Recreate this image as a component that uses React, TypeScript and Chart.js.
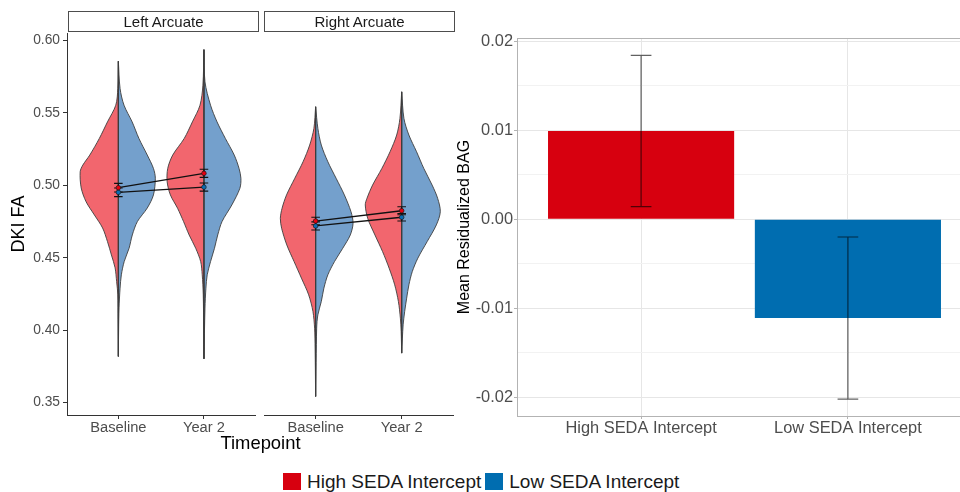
import React, { useEffect, useRef } from "react";
import { Chart, registerables } from "chart.js";

Chart.register(...registerables);

const FONT = '"Liberation Sans", Arial, Helvetica, sans-serif';

// ---------- Data: violin panels ----------
const TIMEPOINTS = ["Baseline", "Year 2"];
const TIME_POS = [1, 2];
const FA_TICKS = [0.35, 0.4, 0.45, 0.5, 0.55, 0.6];
const FACETS = ["Left Arcuate", "Right Arcuate"];
const GROUPS = ["High SEDA Intercept", "Low SEDA Intercept"];

// half-violin profiles: FA values (top -> bottom) and half-widths (x units)
const LB_HIGH_FA = [0.5855, 0.5667, 0.5552, 0.5437, 0.5323, 0.5208, 0.5139, 0.5093, 0.4981, 0.4886, 0.4795, 0.4705, 0.4611, 0.4519, 0.443, 0.4335, 0.4244, 0.4072, 0.3819];
const LB_HIGH_W = [0, 0.006, 0.03, 0.127, 0.222, 0.334, 0.415, 0.446, 0.434, 0.377, 0.28, 0.184, 0.127, 0.081, 0.038, 0.02, 0.006, 0.003, 0];
const LB_LOW_FA = [0.5855, 0.5667, 0.5552, 0.5437, 0.5323, 0.5208, 0.5116, 0.5048, 0.4933, 0.4843, 0.4749, 0.4657, 0.4565, 0.4473, 0.4382, 0.429, 0.4154, 0.4003, 0.3819];
const LB_LOW_W = [0, 0.02, 0.066, 0.161, 0.24, 0.338, 0.41, 0.432, 0.41, 0.338, 0.222, 0.163, 0.125, 0.068, 0.035, 0.02, 0.008, 0.003, 0];

const LY_HIGH_FA = [0.5935, 0.569, 0.5552, 0.5437, 0.5323, 0.5208, 0.5116, 0.5024, 0.4933, 0.4841, 0.4749, 0.4657, 0.4565, 0.4473, 0.4382, 0.4244, 0.4, 0.3803];
const LY_HIGH_W = [0, 0.012, 0.046, 0.135, 0.23, 0.365, 0.423, 0.43, 0.392, 0.308, 0.238, 0.173, 0.096, 0.038, 0.02, 0.008, 0.003, 0];
const LY_LOW_FA = [0.5935, 0.5713, 0.5552, 0.5437, 0.5323, 0.5208, 0.5116, 0.5048, 0.4979, 0.4864, 0.4749, 0.4657, 0.4565, 0.4473, 0.4382, 0.429, 0.4152, 0.3803];
const LY_LOW_W = [0, 0.012, 0.077, 0.153, 0.25, 0.354, 0.41, 0.432, 0.42, 0.326, 0.211, 0.161, 0.123, 0.077, 0.038, 0.023, 0.012, 0];

const RB_HIGH_FA = [0.5541, 0.5392, 0.5277, 0.5162, 0.5048, 0.4933, 0.4841, 0.4772, 0.4703, 0.4588, 0.4473, 0.4359, 0.4244, 0.4129, 0.4014, 0.3877, 0.3543];
const RB_HIGH_W = [0, 0.02, 0.069, 0.146, 0.242, 0.338, 0.39, 0.41, 0.395, 0.335, 0.25, 0.165, 0.081, 0.031, 0.012, 0.006, 0];
const RB_LOW_FA = [0.5541, 0.5392, 0.5277, 0.5162, 0.5048, 0.4933, 0.4817, 0.4738, 0.4657, 0.4565, 0.4473, 0.4382, 0.429, 0.4198, 0.4106, 0.4014, 0.3543];
const RB_LOW_W = [0, 0.026, 0.066, 0.142, 0.238, 0.334, 0.411, 0.435, 0.403, 0.315, 0.219, 0.142, 0.096, 0.066, 0.026, 0.012, 0];

const RY_HIGH_FA = [0.5644, 0.5461, 0.5346, 0.5231, 0.5116, 0.5001, 0.491, 0.4864, 0.4772, 0.4657, 0.4542, 0.4428, 0.4313, 0.4198, 0.4083, 0.3991, 0.3842];
const RY_HIGH_W = [0, 0.02, 0.058, 0.135, 0.23, 0.338, 0.403, 0.423, 0.395, 0.311, 0.222, 0.146, 0.081, 0.038, 0.015, 0.006, 0];
const RY_LOW_FA = [0.5644, 0.5461, 0.5346, 0.5231, 0.5116, 0.5001, 0.491, 0.4817, 0.4726, 0.4611, 0.4497, 0.4404, 0.4313, 0.4221, 0.4129, 0.4037, 0.3842];
const RY_LOW_W = [0, 0.026, 0.084, 0.173, 0.257, 0.354, 0.418, 0.449, 0.403, 0.296, 0.188, 0.123, 0.084, 0.058, 0.035, 0.017, 0];

// group means and standard errors (Baseline, Year 2)
const LEFT_HIGH_MEAN = [0.4983, 0.5082];
const LEFT_HIGH_SE = [0.003, 0.0028];
const LEFT_LOW_MEAN = [0.4951, 0.4987];
const LEFT_LOW_SE = [0.003, 0.0028];
const RIGHT_HIGH_MEAN = [0.4753, 0.4824];
const RIGHT_HIGH_SE = [0.0026, 0.0028];
const RIGHT_LOW_MEAN = [0.4719, 0.4779];
const RIGHT_LOW_SE = [0.0028, 0.0026];

// ---------- Data: bar panel ----------
const GROUP_POS = [1, 2];
const BAG_MEAN = [0.0099, -0.0111];
const BAG_LO = [0.0014, -0.0202];
const BAG_HI = [0.0184, -0.002];
const BAG_TICKS = [-0.02, -0.01, 0, 0.01, 0.02];
const BAG_MINOR = [-0.015, -0.005, 0.005, 0.015];

// ---------- Styles ----------
const HIGH_COLOR = "#D7000F";
const LOW_COLOR = "#006DB0";
const HIGH_FILL = "#F2666E";
const LOW_FILL = "#74A0CC";
const OUTLINE = "#3d3d3d";
const CAP = 0.05;

type Pt = { x: number; y: number | null };

function halfViolin(center: number, fa: number[], w: number[], side: number, fill: string) {
  const data: Pt[] = fa.map((y, i) => ({ x: center + side * w[i], y }));
  return {
    data,
    fill: "shape",
    backgroundColor: fill,
    borderColor: OUTLINE,
    borderWidth: 0.9,
    pointRadius: 0,
    tension: 0.3,
    order: 5,
  };
}

function errorBars(xs: number[], lo: number[], hi: number[], cap: number): Pt[] {
  const pts: Pt[] = [];
  xs.forEach((x, i) => {
    pts.push({ x: x - cap, y: hi[i] }, { x: x + cap, y: hi[i] }, { x, y: null });
    pts.push({ x, y: hi[i] }, { x, y: lo[i] }, { x, y: null });
    pts.push({ x: x - cap, y: lo[i] }, { x: x + cap, y: lo[i] }, { x, y: null });
  });
  return pts;
}

type Violin = { x: number; hFa: number[]; hW: number[]; lFa: number[]; lW: number[] };

function facetConfig(
  violins: Violin[],
  hMean: number[],
  hSe: number[],
  lMean: number[],
  lSe: number[],
  showY: boolean
): any {
  const datasets: any[] = [];
  violins.forEach((v) => {
    datasets.push(halfViolin(v.x, v.hFa, v.hW, -1, HIGH_FILL));
    datasets.push(halfViolin(v.x, v.lFa, v.lW, 1, LOW_FILL));
    const top = Math.max(v.hFa[0], v.lFa[0]);
    const bot = Math.min(v.hFa[v.hFa.length - 1], v.lFa[v.lFa.length - 1]);
    datasets.push({
      data: [
        { x: v.x, y: top },
        { x: v.x, y: bot },
      ],
      borderColor: OUTLINE,
      borderWidth: 1,
      pointRadius: 0,
      fill: false,
      order: 4,
    });
  });
  const mkErr = (m: number[], s: number[]) => ({
    data: errorBars(
      TIME_POS,
      m.map((v, i) => v - s[i]),
      m.map((v, i) => v + s[i]),
      CAP
    ),
    borderColor: "#111",
    borderWidth: 1.1,
    pointRadius: 0,
    spanGaps: false,
    fill: false,
    order: 2,
  });
  datasets.push(mkErr(hMean, hSe), mkErr(lMean, lSe));
  const mkLine = (m: number[]) => ({
    data: TIME_POS.map((x, i) => ({ x, y: m[i] })),
    borderColor: "#111",
    borderWidth: 1.3,
    pointRadius: 0,
    fill: false,
    order: 1,
  });
  datasets.push(mkLine(hMean), mkLine(lMean));
  const mkPts = (m: number[], c: string) => ({
    data: TIME_POS.map((x, i) => ({ x, y: m[i] })),
    showLine: false,
    pointRadius: 2.3,
    pointBackgroundColor: c,
    pointBorderColor: "#1a1a1a",
    pointBorderWidth: 0.7,
    fill: false,
    order: 0,
  });
  datasets.push(mkPts(hMean, "#E4000F"), mkPts(lMean, "#0A6DB5"));

  return {
    type: "line",
    data: { datasets },
    options: {
      animation: false,
      responsive: false,
      maintainAspectRatio: false,
      events: [],
      layout: {
        padding: showY
          ? { top: 33, left: 0, right: 2, bottom: 0 }
          : { top: 33, left: 6, right: 4, bottom: 0 },
      },
      plugins: { legend: { display: false }, tooltip: { enabled: false } },
      scales: {
        x: {
          type: "linear",
          min: 0.4,
          max: 2.6,
          afterBuildTicks: (s: any) => {
            s.ticks = TIME_POS.map((v) => ({ value: v }));
          },
          afterFit: (s: any) => {
            s.height = 45;
          },
          ticks: {
            callback: (v: number) => TIMEPOINTS[TIME_POS.indexOf(v)] ?? "",
            color: "#4d4d4d",
            font: { family: FONT, size: 14.7 },
            padding: 0,
            autoSkip: false,
            maxRotation: 0,
          },
          grid: { drawOnChartArea: false, drawTicks: true, tickLength: 4, color: "#333" },
          border: { display: true, color: "#333", width: 1 },
        },
        y: {
          type: "linear",
          display: showY,
          min: 0.3415,
          max: 0.605,
          afterBuildTicks: (s: any) => {
            s.ticks = FA_TICKS.map((v) => ({ value: v }));
          },
          afterFit: (s: any) => {
            s.width = showY ? 67 : 0;
          },
          ticks: {
            callback: (v: number) => v.toFixed(2),
            color: "#4d4d4d",
            font: { family: FONT, size: 13.8 },
            padding: 3,
          },
          grid: { drawOnChartArea: false, drawTicks: true, tickLength: 4, color: "#333" },
          border: { display: true, color: "#333", width: 1 },
          title: {
            display: true,
            text: "DKI FA",
            color: "#000",
            font: { family: FONT, size: 18 },
            padding: { top: 8, bottom: 0 },
          },
        },
      },
    },
  };
}

const isMajor = (v: number) => Math.abs(v * 100 - Math.round(v * 100)) < 1e-6;

function barConfig(): any {
  return {
    type: "bar",
    data: {
      datasets: [
        {
          type: "bar",
          data: GROUP_POS.map((x, i) => ({ x, y: BAG_MEAN[i] })),
          backgroundColor: [HIGH_COLOR, LOW_COLOR],
          borderWidth: 0,
          barPercentage: 0.9,
          categoryPercentage: 1,
          order: 3,
        },
        {
          type: "line",
          data: errorBars(GROUP_POS, BAG_LO, BAG_HI, CAP),
          borderColor: "rgba(0,0,0,0.62)",
          borderWidth: 1.2,
          pointRadius: 0,
          spanGaps: false,
          fill: false,
          order: 1,
        },
      ],
    },
    options: {
      animation: false,
      responsive: false,
      maintainAspectRatio: false,
      events: [],
      layout: { padding: { top: 38, left: 0, right: 13, bottom: 0 } },
      plugins: { legend: { display: false }, tooltip: { enabled: false } },
      scales: {
        x: {
          type: "linear",
          min: 0.4,
          max: 2.6,
          offset: false,
          afterBuildTicks: (s: any) => {
            s.ticks = GROUP_POS.map((v) => ({ value: v }));
          },
          afterFit: (s: any) => {
            s.height = 44;
          },
          ticks: {
            callback: (v: number) => GROUPS[GROUP_POS.indexOf(v)] ?? "",
            color: "#4d4d4d",
            font: { family: FONT, size: 16.4 },
            padding: 0,
            autoSkip: false,
            maxRotation: 0,
          },
          grid: {
            offset: false,
            drawOnChartArea: true,
            color: "#e6e6e6",
            tickColor: "#b3b3b3",
            tickLength: 3,
            lineWidth: 1,
          },
          border: { display: true, color: "#b3b3b3", width: 1 },
        },
        xTop: {
          type: "linear",
          position: "top",
          display: true,
          min: 0,
          max: 1,
          afterFit: (s: any) => {
            s.height = 0;
          },
          ticks: { display: false },
          grid: { display: false, drawTicks: false },
          border: { display: true, color: "#b3b3b3", width: 1 },
        },
        y: {
          type: "linear",
          min: -0.0221,
          max: 0.02034,
          afterBuildTicks: (s: any) => {
            s.ticks = [...BAG_TICKS, ...BAG_MINOR].sort((a, b) => a - b).map((v) => ({ value: v }));
          },
          afterFit: (s: any) => {
            s.width = 77;
          },
          ticks: {
            callback: (v: number) => (isMajor(v) ? v.toFixed(2) : ""),
            color: "#4d4d4d",
            font: { family: FONT, size: 16.4 },
            padding: 1,
            autoSkip: false,
          },
          grid: {
            color: (ctx: any) => (ctx.tick && isMajor(ctx.tick.value) ? "#e6e6e6" : "#f2f2f2"),
            tickColor: (ctx: any) => (ctx.tick && isMajor(ctx.tick.value) ? "#b3b3b3" : "rgba(0,0,0,0)"),
            tickLength: 3,
            lineWidth: 1,
          },
          border: { display: true, color: "#b3b3b3", width: 1 },
          title: {
            display: true,
            text: "Mean Residualized BAG",
            color: "#000",
            font: { family: FONT, size: 16 },
            padding: { top: 15, bottom: 0 },
          },
        },
      },
    },
  };
}

const LEFT_VIOLINS: Violin[] = [
  { x: TIME_POS[0], hFa: LB_HIGH_FA, hW: LB_HIGH_W, lFa: LB_LOW_FA, lW: LB_LOW_W },
  { x: TIME_POS[1], hFa: LY_HIGH_FA, hW: LY_HIGH_W, lFa: LY_LOW_FA, lW: LY_LOW_W },
];
const RIGHT_VIOLINS: Violin[] = [
  { x: TIME_POS[0], hFa: RB_HIGH_FA, hW: RB_HIGH_W, lFa: RB_LOW_FA, lW: RB_LOW_W },
  { x: TIME_POS[1], hFa: RY_HIGH_FA, hW: RY_HIGH_W, lFa: RY_LOW_FA, lW: RY_LOW_W },
];

export default function App() {
  const leftRef = useRef<HTMLCanvasElement>(null);
  const rightRef = useRef<HTMLCanvasElement>(null);
  const barRef = useRef<HTMLCanvasElement>(null);

  useEffect(() => {
    const charts: Chart[] = [];
    if (leftRef.current)
      charts.push(
        new Chart(
          leftRef.current,
          facetConfig(LEFT_VIOLINS, LEFT_HIGH_MEAN, LEFT_HIGH_SE, LEFT_LOW_MEAN, LEFT_LOW_SE, true)
        )
      );
    if (rightRef.current)
      charts.push(
        new Chart(
          rightRef.current,
          facetConfig(RIGHT_VIOLINS, RIGHT_HIGH_MEAN, RIGHT_HIGH_SE, RIGHT_LOW_MEAN, RIGHT_LOW_SE, false)
        )
      );
    if (barRef.current) charts.push(new Chart(barRef.current, barConfig()));
    return () => charts.forEach((c) => c.destroy());
  }, []);

  const strip = (left: number, width: number, text: string) => (
    <div
      style={{
        position: "absolute",
        left,
        top: 11,
        width,
        height: 21,
        boxSizing: "border-box",
        border: "1px solid #4d4d4d",
        fontSize: 15,
        lineHeight: "19px",
        textAlign: "center",
        color: "#1a1a1a",
      }}
    >
      {text}
    </div>
  );

  const sq = (color: string) => (
    <span style={{ display: "inline-block", width: 18, height: 17, background: color }} />
  );

  return (
    <div
      style={{
        position: "fixed",
        left: 0,
        top: 0,
        width: 960,
        height: 492,
        overflow: "hidden",
        background: "#fff",
        fontFamily: FONT,
      }}
    >
      <canvas
        ref={leftRef}
        width={260}
        height={460}
        style={{ position: "absolute", left: 0, top: 0, width: 260, height: 460 }}
      />
      <canvas
        ref={rightRef}
        width={200}
        height={460}
        style={{ position: "absolute", left: 258, top: 0, width: 200, height: 460 }}
      />
      <canvas
        ref={barRef}
        width={545}
        height={460}
        style={{ position: "absolute", left: 440, top: 0, width: 545, height: 460 }}
      />
      {strip(68, 191, FACETS[0])}
      {strip(264, 191, FACETS[1])}
      <div
        style={{
          position: "absolute",
          left: 160,
          width: 201,
          top: 434,
          textAlign: "center",
          fontSize: 18.4,
          lineHeight: 1,
          color: "#000",
        }}
      >
        Timepoint
      </div>
      <div
        style={{
          position: "absolute",
          left: 283,
          top: 473,
          display: "flex",
          alignItems: "center",
          fontSize: 19,
          lineHeight: "17px",
          color: "#1a1a1a",
          whiteSpace: "nowrap",
        }}
      >
        {sq(HIGH_COLOR)}
        <span style={{ marginLeft: 6 }}>{GROUPS[0]}</span>
        <span style={{ marginLeft: 4 }} />
        {sq(LOW_COLOR)}
        <span style={{ marginLeft: 6 }}>{GROUPS[1]}</span>
      </div>
    </div>
  );
}
